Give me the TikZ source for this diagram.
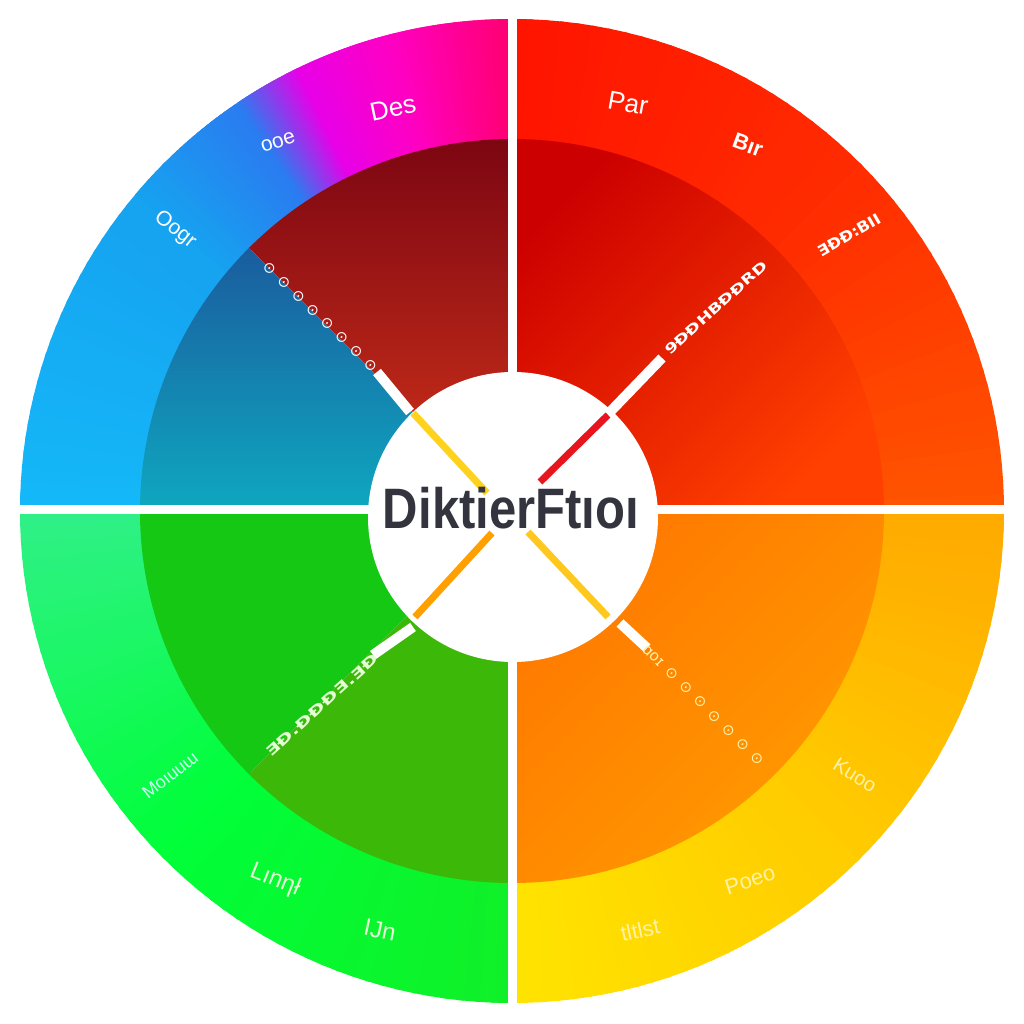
\documentclass[tikz,border=0pt]{standalone}
\usepackage{fontspec}
\setmainfont{Liberation Sans}
\newfontfamily\dvs{DejaVu Sans}
\usetikzlibrary{calc}
\definecolor{txtdark}{HTML}{34343E}
\definecolor{tlA}{HTML}{14B8F8}
\definecolor{tlB}{HTML}{16A2F0}
\definecolor{tlC}{HTML}{2A7CF0}
\definecolor{tlD}{HTML}{E800E8}
\definecolor{tlE}{HTML}{FF00C0}
\definecolor{tlF}{HTML}{FF0070}
\definecolor{trA}{HTML}{FF1400}
\definecolor{trB}{HTML}{FF2C00}
\definecolor{trC}{HTML}{FF5500}
\definecolor{brA}{HTML}{FFAA00}
\definecolor{brB}{HTML}{FFCC00}
\definecolor{brC}{HTML}{FFE400}
\definecolor{blA}{HTML}{10F028}
\definecolor{blB}{HTML}{00FF38}
\definecolor{blC}{HTML}{30F088}
\definecolor{inTLrA}{HTML}{7C0612}
\definecolor{inTLrB}{HTML}{D4341A}
\definecolor{inTLbA}{HTML}{1A5C9E}
\definecolor{inTLbB}{HTML}{0EA8C0}
\definecolor{inTRA}{HTML}{CC0000}
\definecolor{inTRB}{HTML}{FF4000}
\definecolor{inBRA}{HTML}{FF7800}
\definecolor{inBRB}{HTML}{FF9C00}
\definecolor{inBLA}{HTML}{14C814}
\definecolor{inBLB}{HTML}{3CB808}
\definecolor{lineYel}{HTML}{FFD21E}
\definecolor{lineRed}{HTML}{E8141E}
\definecolor{lineOra}{HTML}{FFA000}
\definecolor{lineYel2}{HTML}{FFC81E}
\definecolor{paleY}{HTML}{FFF2A8}
\definecolor{paleG}{HTML}{E4FFD4}
\definecolor{mint}{HTML}{C8FFF0}
% ring segment with angular colour blend: rin, rout, a1, a2, c1, c2
\newcommand\ringseg[6]{%
  \foreach \kk in {1,...,24}{%
    \pgfmathsetmacro\angA{#3+(#4-#3)*(\kk-1)/24}%
    \pgfmathsetmacro\angB{#3+(#4-#3)*\kk/24+((#4-#3)>0?0.5:-0.5)}%
    \pgfmathtruncatemacro\pp{100*(\kk-0.5)/24}%
    \fill[#6!\pp!#5] (\angA:#1) arc[start angle=\angA,end angle=\angB,radius=#1]
      -- (\angB:#2) arc[start angle=\angB,end angle=\angA,radius=#2] -- cycle;
  }%
}
\tikzset{
  lbl/.style={text=white,inner sep=0pt},
  wbar/.style={white,line width=10pt},
  cbar/.style={line width=7pt},
}
\begin{document}
\begin{tikzpicture}[x=1pt,y=1pt]
\useasboundingbox (-512,-513) rectangle (512,511);
\fill[white] (-512,-513) rectangle (512,511);
% outer ring
\ringseg{370}{492}{180}{140}{tlA}{tlB}
\ringseg{370}{492}{140}{124}{tlB}{tlC}
\ringseg{370}{492}{124}{116}{tlC}{tlD}
\ringseg{370}{492}{116}{104}{tlD}{tlE}
\ringseg{370}{492}{104}{90}{tlE}{tlF}
\ringseg{370}{492}{90}{45}{trA}{trB}
\ringseg{370}{492}{45}{0}{trB}{trC}
\ringseg{370}{492}{0}{-45}{brA}{brB}
\ringseg{370}{492}{-45}{-90}{brB}{brC}
\ringseg{370}{492}{-90}{-135}{blA}{blB}
\ringseg{370}{492}{-135}{-180}{blB}{blC}
% inner disk wedges
\shade[top color=inTLrA,bottom color=inTLrB] (0,0) -- (90:372) arc[start angle=90,end angle=135,radius=372] -- cycle;
\shade[top color=inTLbA,bottom color=inTLbB] (0,0) -- (135:372) arc[start angle=135,end angle=180,radius=372] -- cycle;
\shade[top color=inTRA,bottom color=inTRB,shading angle=45] (0,0) -- (0:372) arc[start angle=0,end angle=90,radius=372] -- cycle;
\shade[top color=inBRA,bottom color=inBRB,shading angle=45] (0,0) -- (-90:372) arc[start angle=-90,end angle=0,radius=372] -- cycle;
\fill[inBLA] (0,0) -- (180:372) arc[start angle=180,end angle=225,radius=372] -- cycle;
\fill[inBLB] (0,0) -- (225:372) arc[start angle=225,end angle=270,radius=372] -- cycle;
% white gaps
\fill[white] (-4.5,-515) rectangle (4.5,515);
\fill[white] (-515,-3.5) rectangle (515,5.5);
% centre circle
\node[circle,fill=white,minimum size=290pt,inner sep=0pt] (hub) at (1,-6) {};
% diagonal bars
\coordinate (tlw1) at (-135,139); \coordinate (tlw2) at (-102,99);
\coordinate (tlc1) at (-99,98);   \coordinate (tlc2) at (-25,18);
\coordinate (trw1) at (150,153);  \coordinate (trw2) at (98,99);
\coordinate (trc1) at (96,96);    \coordinate (trc2) at (28,29);
\coordinate (blw1) at (-139,-144);\coordinate (blw2) at (-99,-116);
\coordinate (blc1) at (-97,-106); \coordinate (blc2) at (-20,-22);
\coordinate (brw1) at (135,-137); \coordinate (brw2) at (108,-112);
\coordinate (brc1) at (96,-106);  \coordinate (brc2) at (16,-21);
\draw[wbar] (tlw1) -- (tlw2);
\draw[wbar] (trw1) -- (trw2);
\draw[wbar] (blw1) -- (blw2);
\draw[wbar] (brw1) -- (brw2);
\draw[cbar,lineYel] (tlc1) -- (tlc2);
\draw[cbar,lineRed] (trc1) -- (trc2);
\draw[cbar,lineOra] (blc1) -- (blc2);
\draw[cbar,lineYel2] (brc1) -- (brc2);
% centre title
\node[text=txtdark,inner sep=0pt] (title) at (-1,3) {\scalebox{0.86}[1]{\fontsize{57}{60}\selectfont\bfseries DiktierFtıoı}};
% diagonal texts
\node[lbl,rotate=-44] (dtl) at (-192,194) {\dvs\fontsize{15}{16}\selectfont ⊙\enspace⊙\enspace⊙\enspace⊙\enspace⊙\enspace⊙\enspace⊙\enspace⊙};
\node[lbl,rotate=42] (dtr) at (204,203) {\resizebox{132pt}{10pt}{\dvs\bfseries 9ƉƉHBƉƉRD}};
\node[lbl,rotate=42,text=paleG] (dbl) at (-190,-194) {\resizebox{146pt}{10pt}{\dvs\bfseries ƎƉ.ƉƉƉƎ.ƎƉ}};
\node[lbl,rotate=-45,text=paleY] (dbr) at (191,-194) {\dvs\fontsize{15}{16}\selectfont ɑoɪ\enspace⊙\enspace⊙\enspace⊙\enspace⊙\enspace⊙\enspace⊙\enspace⊙};
% outer ring labels
\node[lbl,rotate=12] (l1) at (-119,403) {\fontsize{26}{28}\selectfont Des};
\node[lbl,rotate=18] (l2) at (-234,369) {\fontsize{21}{24}\selectfont ooe};
\node[lbl,rotate=-38] (l3) at (-337,281) {\fontsize{21}{24}\selectfont Oogr};
\node[lbl,rotate=-10] (l4) at (116,408) {\fontsize{26}{28}\selectfont Par};
\node[lbl,rotate=-20] (l5) at (236,366) {\fontsize{22}{24}\selectfont\bfseries Bır};
\node[lbl,rotate=30] (l6) at (337,276) {\resizebox{70pt}{11pt}{\dvs\bfseries ƎƉƉ:BII}};
\node[lbl,rotate=-32,text=paleY] (l7) at (343,-264) {\fontsize{20}{22}\selectfont Kuoo};
\node[lbl,rotate=18,text=paleY] (l8) at (238,-369) {\fontsize{22}{24}\selectfont Poeo};
\node[lbl,rotate=12,text=paleY] (l9) at (128,-419) {\fontsize{22}{24}\selectfont tltlst};
\node[lbl,rotate=38,text=mint] (l10) at (-342,-264) {\fontsize{18}{20}\selectfont Moıuuɯ};
\node[lbl,rotate=-22,text=paleG] (l11) at (-237,-369) {\fontsize{24}{26}\selectfont Lınηł};
\node[lbl,rotate=-12,text=paleG] (l12) at (-132,-419) {\fontsize{24}{26}\selectfont IJn};
\end{tikzpicture}
\end{document}
